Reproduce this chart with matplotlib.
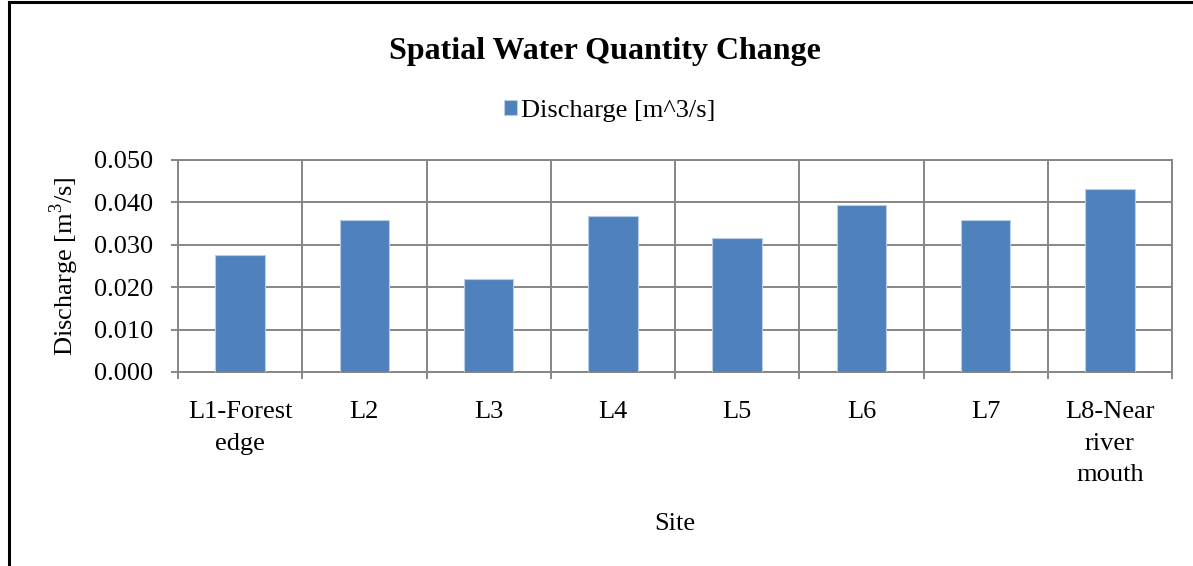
import numpy as np
import matplotlib
matplotlib.use("Agg")
import matplotlib.pyplot as plt
from matplotlib.lines import Line2D
from matplotlib.ticker import FormatStrFormatter

# ===== Data =====
sites = ["L1-Forest\nedge", "L2", "L3", "L4", "L5", "L6", "L7", "L8-Near\nriver\nmouth"]
discharge = [0.0277, 0.0359, 0.0220, 0.0367, 0.0317, 0.0395, 0.0359, 0.0432]
y_ticks = [0.000, 0.010, 0.020, 0.030, 0.040, 0.050]

plt.rcParams['font.family'] = ['Liberation Serif', 'DejaVu Serif']
plt.rcParams['mathtext.fontset'] = 'custom'
plt.rcParams['mathtext.rm'] = 'Liberation Serif'

GRID = "#868686"
BAR = "#4F81BD"
FS = 19

fig = plt.figure(figsize=(11.93, 5.66), dpi=100)
ax = fig.add_axes([178 / 1193, 1 - 372 / 566, (1172 - 178) / 1193, (372 - 160) / 566])

x = np.arange(len(sites))
ax.bar(x, discharge, width=0.4, color=BAR, edgecolor="#B9CDE5", linewidth=0.8,
       label="Discharge [m^3/s]", zorder=3)

ax.set_xlim(-0.5, len(sites) - 0.5)
ax.set_ylim(0, 0.05)
ax.set_yticks(y_ticks)
ax.yaxis.set_major_formatter(FormatStrFormatter("%.3f"))
ax.set_xticks(x)
ax.set_xticklabels(sites, linespacing=1.55)
ax.set_xticks(np.arange(-0.5, len(sites)), minor=True)

ax.grid(axis="y", which="major", color=GRID, linewidth=1.4, zorder=0)
ax.grid(axis="x", which="minor", color=GRID, linewidth=1.4, zorder=0)
ax.set_axisbelow(True)

for s in ax.spines.values():
    s.set_color(GRID)
    s.set_linewidth(1.4)

ax.tick_params(axis="x", which="major", length=0, pad=21, labelsize=FS)
ax.tick_params(axis="x", which="minor", length=5, width=1.4, color=GRID, direction="out")
ax.tick_params(axis="y", length=5, width=1.4, color=GRID, direction="out", pad=13, labelsize=FS)

ax.set_xlabel("Site", fontsize=FS)
ax.xaxis.set_label_coords(0.5, -0.665)
ax.set_ylabel("Discharge [m$^3$/s]", fontsize=FS)
ax.yaxis.set_label_coords(-0.098, 0.5)

fig.text(605 / 1193, 1 - 51 / 566, "Spatial Water Quantity Change", fontsize=23,
         fontweight="bold", ha="center", va="center")
fig.legend(loc="center", bbox_to_anchor=(610 / 1193, 1 - 111 / 566), frameon=False,
           fontsize=FS, handlelength=0.5, handleheight=0.5, handletextpad=0.15)

# chart border (only left and top visible in the crop)
fig.add_artist(Line2D([9 / 1193, 9 / 1193], [0, 1 - 1.5 / 566], color="black", linewidth=2.2))
fig.add_artist(Line2D([9 / 1193, 1], [1 - 1.5 / 566, 1 - 1.5 / 566], color="black", linewidth=2.2))

fig.savefig("out.png", dpi=100, facecolor="white")
